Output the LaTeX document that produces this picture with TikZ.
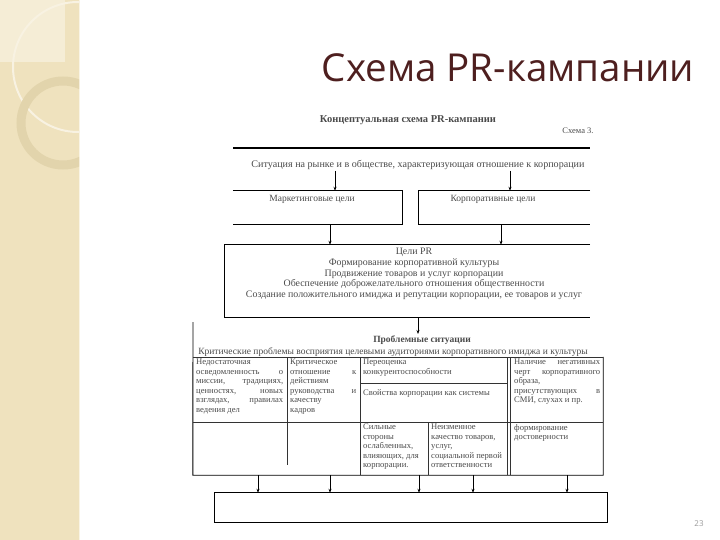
\documentclass[tikz,border=0pt]{standalone}
\usepackage{fontspec}
\setmainfont{Liberation Serif}
\newfontfamily\titlefont{Open Sans}
\usetikzlibrary{arrows.meta}
\definecolor{bandcol}{HTML}{EFE2BE}
\definecolor{bandlight}{HTML}{F5EDD6}
\definecolor{ringcol}{HTML}{E2D4AC}
\definecolor{titlecol}{HTML}{4E1F1F}
\definecolor{scangray}{HTML}{4A4A4A}
\pgfdeclarelayer{bglayer}
\pgfdeclarelayer{edgelayer}
\pgfdeclarelayer{nodelayer}
\pgfsetlayers{bglayer,edgelayer,nodelayer,main}
\tikzstyle{edge}=[draw=black, line width=0.9pt]
\tikzstyle{thinedge}=[draw=black!80, line width=0.6pt]
\tikzstyle{arrowedge}=[draw=black, line width=0.6pt, -{Stealth[length=4pt,width=3pt]}]
\tikzstyle{box}=[draw=none, inner sep=0pt]
\tikzstyle{scantext}=[text=scangray, inner sep=0pt, font=\fontsize{9.5}{10.6}\selectfont]
\tikzstyle{celltext}=[text=scangray, inner sep=0pt, anchor=north west, font=\fontsize{8.6}{9.5}\selectfont]

\begin{document}
\begin{tikzpicture}[x=1pt, y=-1pt]
	\useasboundingbox (0,0) rectangle (720,540);
	\begin{pgfonlayer}{bglayer}
		\fill [bandcol] (0,0) rectangle (79,540);
		\fill [bandlight] (0,0) rectangle (65,62);
		\draw [white!60!bandcol, line width=0.8pt] (79,0) -- (79,540);
		\begin{scope}
			\clip (0,0) rectangle (79,540);
			\draw [white!55!bandcol, line width=2pt] (78,67) circle (65);
			\draw [ringcol, line width=9pt] (63,123) circle (42);
		\end{scope}
	\end{pgfonlayer}
	\begin{pgfonlayer}{nodelayer}
		\node [text=titlecol, font=\titlefont\fontsize{38.5}{42}\selectfont] (0) at (508,68) {Схема PR-кампании};
		\node [text=black!40, font=\titlefont\fontsize{8}{9}\selectfont] (99) at (699,524) {23};
		\node [style=scantext, font=\bfseries\fontsize{10.5}{12}\selectfont] (1) at (408,120) {Концептуальная схема PR-кампании};
		\node [style=scantext, font=\fontsize{8.5}{10}\selectfont] (1a) at (578,131) {Схема 3.};
		\node [style=scantext, font=\fontsize{10.1}{11}\selectfont] (2) at (418,165) {Ситуация на рынке и в обществе, характеризующая отношение к корпорации};
		\node [style=box, minimum width=169pt, minimum height=33pt] (3) at (317.5,207.5) {};
		\node [style=box, minimum width=171pt, minimum height=33pt] (4) at (504.5,207.5) {};
		\node [style=scantext] (3t) at (312,199) {Маркетинговые цели};
		\node [style=scantext] (4t) at (493,199) {Корпоративные цели};
		\node [style=box, minimum width=365pt, minimum height=72pt] (5) at (407.5,281) {};
		\node [style=scantext, align=center, font=\fontsize{9.9}{10.7}\selectfont] (5t) at (414,274) {Цели PR\\
			Формирование корпоративной культуры\\
			Продвижение товаров и услуг корпорации\\
			Обеспечение доброжелательного отношения общественности\\
			Создание положительного имиджа и репутации корпорации, ее товаров и услуг};
		\node [style=scantext, font=\bfseries\fontsize{9.5}{11}\selectfont] (6) at (422,340) {Проблемные ситуации};
		\node [style=scantext] (6a) at (393,352) {Критические проблемы восприятия целевыми аудиториями корпоративного имиджа и культуры};
		\node [style=celltext, text width=87pt, align=justify] (c1) at (196,359) {Недостаточная\linebreak осведомленность о\linebreak миссии, традициях,\linebreak ценностях, новых\linebreak взглядах, правилах\linebreak ведения дел};
		\node [style=celltext, text width=66pt, align=justify] (c2) at (290,359) {Критическое\linebreak отношение к\linebreak действиям\linebreak руководства и\linebreak качеству\linebreak кадров};
		\node [style=celltext, align=left] (c3) at (363,359) {Переоценка\\ конкурентоспособности};
		\node [style=celltext, align=left] (c4) at (363,389) {Свойства корпорации как системы};
		\node [style=celltext, text width=86pt, align=justify] (c5) at (514,359) {Наличие негативных\linebreak черт корпоративного\linebreak образа,\linebreak присутствующих в\linebreak СМИ, слухах и пр.};
		\node [style=celltext, align=left] (c6) at (363,424) {Сильные\\ стороны\\ ослабленных,\\ влияющих, для\\ корпорации.};
		\node [style=celltext, align=left] (c7) at (431,424) {Неизменное\\ качество товаров,\\ услуг,\\ социальной первой\\ ответственности};
		\node [style=celltext, align=left] (c8) at (514,424) {формирование\\ достоверности};
		\node [style=box, minimum width=410pt, minimum height=118pt] (t) at (398,416) {};
		\node [style=box, minimum width=392pt, minimum height=29pt] (7) at (411,507.5) {};
	\end{pgfonlayer}
	\begin{pgfonlayer}{edgelayer}
		\draw [style=edge, line width=1.2pt] (233,148) -- (590,148);
		\draw [style=edge] (3.north west) -- (3.north east) -- (3.south east) -- (3.south west);
		\draw [style=edge] (4.north east) -- (4.north west) -- (4.south west) -- (4.south east);
		\draw [style=edge] (5.north east) -- (5.north west) -- (5.south west) -- (5.south east);
		\draw [style=edge] (193,322) -- (t.south west) -- (t.south east) -- (t.north east);
		\draw [style=thinedge] (t.north west) -- (t.north east);
		\draw [style=thinedge] (287,357) -- (287,465);
		\draw [style=thinedge] (360,357) -- (360,475);
		\draw [style=thinedge] (507,357) -- (507,475);
		\draw [style=thinedge] (510,357) -- (510,475);
		\draw [style=thinedge] (428,422) -- (428,475);
		\draw [style=thinedge] (360,383) -- (507,383);
		\draw [style=thinedge] (193,422) -- (603,422);
		\draw [style=edge] (7.north west) rectangle (7.south east);
		\coordinate (a1) at (335,171);
		\coordinate (a2) at (510,171);
		\coordinate (a3) at (330,224);
		\coordinate (a4) at (501,224);
		\coordinate (a5) at (418,317);
		\coordinate (a6) at (418,334);
		\draw [style=arrowedge] (a1) to (a1 |- 3.north);
		\draw [style=arrowedge] (a2) to (a2 |- 4.north);
		\draw [style=arrowedge] (a3 |- 3.south) to (a3 |- 5.north);
		\draw [style=arrowedge] (a4 |- 4.south) to (a4 |- 5.north);
		\draw [style=arrowedge] (a5 |- 5.south) to (a6);
		\foreach \ax in {258,330,419,473,567}
			\draw [style=arrowedge] (\ax,475) to (\ax,0 |- 7.north);
	\end{pgfonlayer}
\end{tikzpicture}
\end{document}
